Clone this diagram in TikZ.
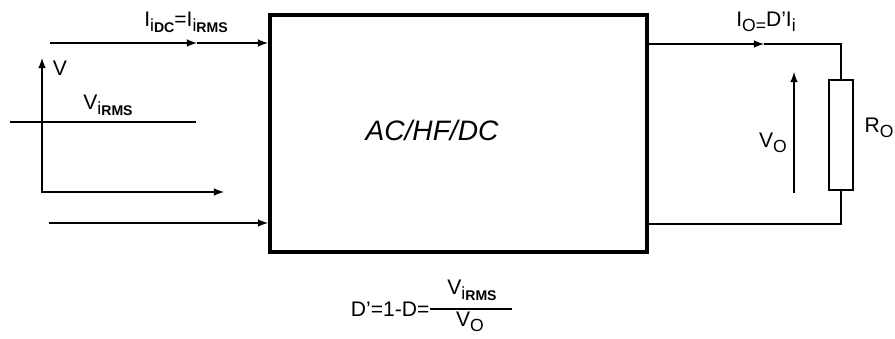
\documentclass[tikz,border=0pt]{standalone}
\usepackage{fontspec}
\setmainfont{Liberation Sans}
\usetikzlibrary{shapes,arrows}

% lowered subscripts as in the drawing
\newcommand{\subA}[1]{\raisebox{-3pt}{\fontsize{10}{12}\selectfont #1}}
\newcommand{\subB}[1]{\raisebox{-0.5pt}{\fontsize{8}{10}\selectfont\bfseries #1}}

\begin{document}
\begin{tikzpicture}[x=0.02cm,y=-0.02cm,>=latex,line width=1pt,
      every node/.style={font=\fontsize{12}{14}\selectfont}]

      \useasboundingbox (0,0) rectangle (895,338);

      % converter block
      \node[rectangle,
            draw,
            line width = 2.3pt,
            minimum width = 7.54cm,
            minimum height = 4.74cm] (conv) at (458.5,133.5) {};
      \node[font=\fontsize{16}{19}\selectfont\itshape] (convtxt) at (432,130) {AC/HF/DC};

      % load resistor
      \node[rectangle,
            draw,
            minimum width = 0.48cm,
            minimum height = 2.2cm] (res) at (841,135) {};

      % wire corners and arrow points
      \coordinate (inA) at (50,43);
      \coordinate (inAm) at (197,43);
      \coordinate (inB) at (49,223);
      \coordinate (vtop) at (42,58);
      \coordinate (vright) at (224,192);
      \coordinate (lvlA) at (10,122);
      \coordinate (lvlB) at (196,122);
      \coordinate (outTm) at (764,44);
      \coordinate (outTR) at (841,44);
      \coordinate (outBR) at (841,224);
      \coordinate (voB) at (794,193);
      \coordinate (voT) at (794,72);
      \coordinate (barR) at (512,309);

      % labels
      \node (Ii) at (186,22) {I\subA{i\subB{DC}}=I\subA{i\subB{RMS}}};
      \node (V) at (60,68) {V};
      \node (Vi) at (108,105) {V\subA{i\subB{RMS}}};
      \node (Io) at (766,22) {I\subA{O=}D’I\subA{i}};
      \node (Vo) at (773,143) {V\subA{O}};
      \node (Ro) at (879,128) {R\subA{O}};

      % duty relation
      \node[anchor=west,inner sep=0pt] (dprime) at (350,309) {D’=1-D=};
      \node (num) at (472,290) {V\subA{i\subB{RMS}}};
      \node[inner sep=0pt] (den) at (470,322) {V\subA{O}};
      \draw (dprime.east) -- (barR);

      % input side
      \draw[->] (inA) -- (inAm);
      \draw[->] (inAm) -- (conv.west |- inAm);
      \draw[->] (inB) -- (conv.west |- inB);
      \draw[<->] (vtop) |- (vright);
      \draw[line width=1.3pt] (lvlA) -- (lvlB);

      % output side
      \draw[->] (conv.east |- outTm) -- (outTm);
      \draw (outTm) -- (outTR) -- (res.north);
      \draw (res.south) -- (outBR) -- (conv.east |- outBR);
      \draw[->] (voB) -- (voT);

\end{tikzpicture}
\end{document}
